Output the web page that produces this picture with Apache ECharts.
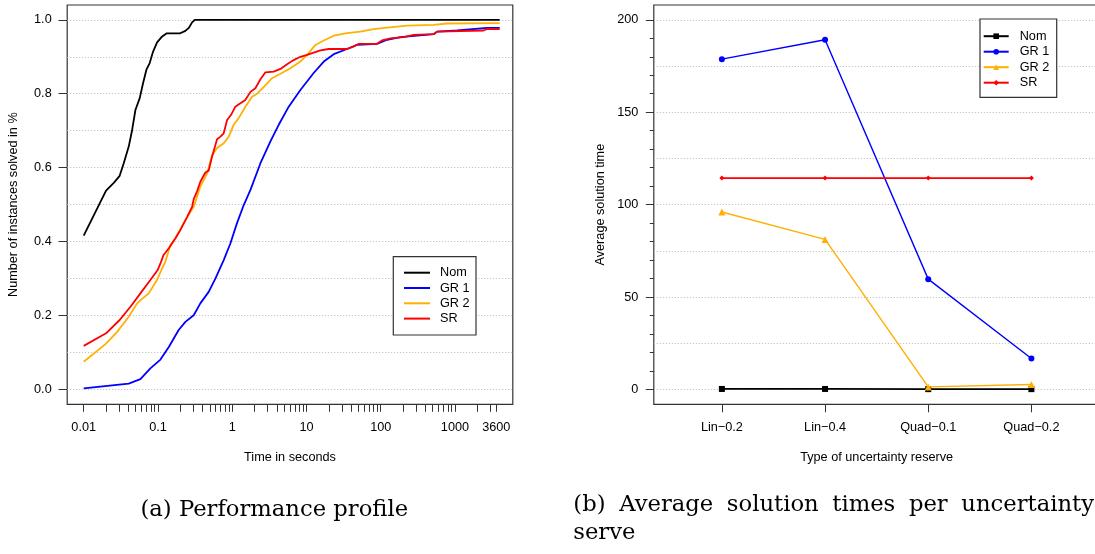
<!DOCTYPE html>
<html><head><meta charset="utf-8">
<script src="https://cdn.jsdelivr.net/npm/echarts@6/dist/echarts.min.js"></script>
<style>html,body{margin:0;padding:0;background:#fff}#c{width:1095px;height:554px}</style>
</head><body><div id="c"></div>
<script>
// ---------- data ----------
const seriesNames = ['Nom', 'GR 1', 'GR 2', 'SR'];

// (a) performance profile: solve time (s) vs. fraction solved
const nomTime = [0.01,0.02,0.0254,0.0305,0.0346,0.0404,0.0449,0.0497,0.0568,0.0631,0.0699,0.0774,0.086,0.0973,0.114,0.13,0.196,0.205,0.234,0.26,0.288,0.313,4000];
const nomFrac = [0.416,0.538,0.559,0.578,0.612,0.657,0.702,0.756,0.788,0.829,0.865,0.883,0.914,0.939,0.955,0.963,0.963,0.968,0.970,0.978,0.993,1.0,1.0];

const gr1Time = [0.01,0.0404,0.058,0.079,0.108,0.14,0.19,0.234,0.303,0.372,0.482,0.593,0.768,0.944,1.16,1.43,1.76,2.4,3.27,4.23,5.77,8.28,12.5,17.1,23.3,35.2,48.1,89,122,184,517,574,1069,2700,4000];
const gr1Frac = [0.003,0.016,0.028,0.057,0.081,0.115,0.161,0.183,0.201,0.233,0.264,0.300,0.350,0.395,0.450,0.499,0.540,0.612,0.671,0.716,0.765,0.810,0.856,0.887,0.907,0.921,0.932,0.935,0.946,0.953,0.961,0.968,0.971,0.978,0.978];

const gr2Time = [0.01,0.02,0.0282,0.0404,0.0524,0.061,0.075,0.097,0.114,0.126,0.147,0.172,0.222,0.303,0.372,0.459,0.536,0.625,0.768,0.897,1.047,1.22,1.505,1.85,2.16,2.65,3.44,4.46,6.07,8.28,10.2,13.2,17.1,23.3,35.2,53.2,80.4,122,226,517,782,4000];
const gr2Frac = [0.075,0.124,0.156,0.197,0.233,0.245,0.260,0.296,0.328,0.346,0.391,0.409,0.450,0.494,0.549,0.585,0.634,0.653,0.666,0.684,0.716,0.734,0.765,0.792,0.800,0.818,0.842,0.854,0.869,0.887,0.905,0.932,0.944,0.957,0.964,0.968,0.975,0.979,0.984,0.986,0.990,0.991];

const srTime = [0.01,0.02,0.0305,0.0426,0.058,0.079,0.099,0.108,0.119,0.14,0.172,0.2,0.247,0.288,0.303,0.336,0.372,0.435,0.482,0.536,0.625,0.693,0.768,0.853,0.966,1.1,1.29,1.5,1.76,2.05,2.4,2.8,3.62,4.46,5.48,6.73,8.28,10.2,15.4,19.9,35.2,43.3,50.5,89,104,135,204,278,517,574,2430,2700,4000];
const srFrac = [0.118,0.152,0.188,0.224,0.260,0.296,0.323,0.341,0.364,0.382,0.409,0.431,0.467,0.494,0.515,0.536,0.562,0.587,0.592,0.630,0.677,0.684,0.693,0.729,0.743,0.765,0.774,0.783,0.805,0.815,0.839,0.858,0.860,0.867,0.880,0.891,0.900,0.905,0.917,0.921,0.921,0.928,0.935,0.935,0.944,0.950,0.953,0.959,0.961,0.968,0.971,0.975,0.975];

const timeTicks = [0.01,0.02,0.03,0.04,0.05,0.06,0.07,0.08,0.09,0.1,0.2,0.3,0.4,0.5,0.6,0.7,0.8,0.9,1,2,3,4,5,6,7,8,9,10,20,30,40,50,60,70,80,90,100,200,300,400,500,600,700,800,900,1000,2000,3000,3600];
const timeLabels = [0.01,0.1,1,10,100,1000,3600];
const fracLabels = [0,0.2,0.4,0.6,0.8,1.0];
const fracGrid = [0,0.1,0.2,0.3,0.4,0.5,0.6,0.7,0.8,0.9,1.0];

// (b) average solution time per uncertainty reserve
const reserveTypes = ['Lin\u22120.2', 'Lin\u22120.4', 'Quad\u22120.1', 'Quad\u22120.2'];
const avgNom = [0.3, 0.3, 0.2, 0.2];
const avgGR1 = [178.7, 189.2, 59.7, 16.8];
const avgGR2 = [96.0, 81.2, 1.4, 2.7];
const avgSR  = [114.4, 114.4, 114.4, 114.4];
const avgLabels = [0, 50, 100, 150, 200];
const avgMinor = [0,10,20,30,40,50,60,70,80,90,100,110,120,130,140,150,160,170,180,190,200];
const avgGrid = [0, 25, 50, 75, 100, 125, 150, 175, 200];
const reservePos = [1, 2, 3, 4];

// ---------- styles ----------
const colors = ['#000000', '#0000ff', '#ffb000', '#ff0000'];
const SANS = 'Liberation Sans';
const txt = {fontFamily: SANS, fontSize: 12.7, color: '#000'};
const tickLine = {color: '#333', width: 1};
const gridLine = {color: '#b8b8b8', width: 1, type: [1, 2]};
const noLine = {show: false, onZero: false};

const zip = (a, b) => a.map((v, i) => [v, b[i]]);
const ext = Math.pow(3600 / 0.01, 0.04); // R-style 4% axis extension on log scale

const leftSeries = [[nomTime, nomFrac], [gr1Time, gr1Frac], [gr2Time, gr2Frac], [srTime, srFrac]].map((d, i) => ({
  name: seriesNames[i], type: 'line', xAxisIndex: 0, yAxisIndex: 0,
  data: zip(d[0], d[1]), symbol: 'none', showSymbol: false,
  lineStyle: {color: colors[i], width: 1.8}, itemStyle: {color: colors[i]}, z: 3 + i
}));

const rightVals = [avgNom, avgGR1, avgGR2, avgSR];
const rightSymbols = ['rect', 'circle', 'triangle', 'diamond'];
const rightSizes = [6, 6, 7, 5];
const rightWidths = [1.8, 1.4, 1.4, 1.7];
const rightSeries = rightVals.map((vals, i) => ({
  name: seriesNames[i] + '#b', type: 'line', xAxisIndex: 1, yAxisIndex: 2,
  data: zip(reservePos, vals), symbol: rightSymbols[i], symbolSize: rightSizes[i], showSymbol: true,
  lineStyle: {color: colors[i], width: rightWidths[i]}, itemStyle: {color: colors[i]}, z: 3 + i
}));

// ---------- caption (b) justified words ----------
const capFont = '22.7px "DejaVu Serif"';
function justified(words, x0, x1, y) {
  const ctx = document.createElement('canvas').getContext('2d');
  ctx.font = capFont;
  const w = words.map(s => ctx.measureText(s).width);
  const tot = w.reduce((a, b) => a + b, 0);
  const gap = (x1 - x0 - tot) / (words.length - 1);
  let x = x0;
  return words.map((s, i) => {
    const el = {type: 'text', x: x, y: y, style: {text: s, font: capFont, fill: '#000', align: 'left', verticalAlign: 'middle'}};
    x += w[i] + gap;
    return el;
  });
}
const capB1 = ['(b)', 'Average', 'solution', 'times', 'per', 'uncertainty'];

const chart = echarts.init(document.getElementById('c'), null, {renderer: 'canvas'});
chart.setOption({
  animation: false,
  backgroundColor: '#fff',
  grid: [
    {left: 67.2, top: 5, width: 445.6, height: 399.3, show: true, borderColor: '#333', borderWidth: 1.2, backgroundColor: 'transparent', containLabel: false, outerBoundsMode: 'none'},
    {left: 653.8, top: 5, width: 445.7, height: 399.3, show: true, borderColor: '#333', borderWidth: 1.2, backgroundColor: 'transparent', containLabel: false, outerBoundsMode: 'none'}
  ],
  xAxis: [
    {type: 'log', logBase: 10, gridIndex: 0, position: 'bottom', min: 0.01 / ext, max: 3600 * ext,
     name: 'Time in seconds', nameLocation: 'middle', nameGap: 47, nameTextStyle: txt,
     axisLine: noLine,
     axisTick: {show: true, length: 7.5, lineStyle: tickLine, customValues: timeTicks},
     axisLabel: {show: true, margin: 17, ...txt, customValues: timeLabels, formatter: v => String(+(+v).toPrecision(6))},
     splitLine: {show: false}, minorTick: {show: false}},
    {type: 'value', gridIndex: 1, position: 'bottom', min: 0.34, max: 4.66,
     name: 'Type of uncertainty reserve', nameLocation: 'middle', nameGap: 47, nameTextStyle: txt,
     axisLine: noLine,
     axisTick: {show: true, length: 8, lineStyle: tickLine, customValues: reservePos},
     axisLabel: {show: true, margin: 17, ...txt, customValues: reservePos, formatter: v => reserveTypes[Math.round(v) - 1]},
     splitLine: {show: false}}
  ],
  yAxis: [
    {type: 'value', gridIndex: 0, position: 'left', min: -0.04, max: 1.04,
     name: 'Number of instances solved in %', nameLocation: 'middle', nameGap: 47, nameTextStyle: txt,
     axisLine: noLine,
     axisTick: {show: true, length: 8.7, lineStyle: tickLine, customValues: fracLabels},
     axisLabel: {show: true, margin: 15.5, ...txt, customValues: fracLabels, formatter: v => (+v).toFixed(1)},
     splitLine: {show: false}},
    {type: 'value', gridIndex: 0, position: 'left', min: -0.04, max: 1.04,
     axisLine: noLine, axisLabel: {show: false},
     axisTick: {show: false, customValues: fracGrid},
     splitLine: {show: true, lineStyle: gridLine}},
    {type: 'value', gridIndex: 1, position: 'left', min: -8, max: 208,
     name: 'Average solution time', nameLocation: 'middle', nameGap: 47, nameTextStyle: txt,
     axisLine: noLine,
     axisTick: {show: true, length: 8, lineStyle: tickLine, customValues: avgLabels},
     axisLabel: {show: true, margin: 15.5, ...txt, customValues: avgLabels, formatter: v => String(Math.round(v))},
     splitLine: {show: false}},
    {type: 'value', gridIndex: 1, position: 'left', min: -8, max: 208,
     axisLine: noLine, axisLabel: {show: false},
     axisTick: {show: true, length: 4, lineStyle: tickLine, customValues: avgMinor},
     splitLine: {show: false}},
    {type: 'value', gridIndex: 1, position: 'left', min: -8, max: 208,
     axisLine: noLine, axisLabel: {show: false},
     axisTick: {show: false, customValues: avgGrid},
     splitLine: {show: true, lineStyle: gridLine}}
  ],
  legend: [
    {data: seriesNames, orient: 'vertical', left: 393.3, top: 256.7, icon: 'rect', itemWidth: 26, itemHeight: 2, itemGap: 2.3,
     padding: [9.5, 6.4, 9.9, 10.7], borderColor: '#333', borderWidth: 1.2, backgroundColor: '#fff', selectedMode: false,
     textStyle: {...txt, lineHeight: 13, padding: [0, 0, 0, 5]}},
    {data: seriesNames.map(n => n + '#b'), formatter: n => n.replace('#b', ''), orient: 'vertical', left: 980, top: 19,
     itemWidth: 25, itemHeight: 7, itemGap: 2.5, lineStyle: {width: 2},
     padding: [10.7, 7.4, 8.1, 2.7], borderColor: '#333', borderWidth: 1.2, backgroundColor: '#fff', selectedMode: false,
     textStyle: {...txt, lineHeight: 13, padding: [0, 0, 0, 6]}}
  ],
  graphic: [
    {type: 'text', x: 274.3, y: 510.3, style: {text: '(a) Performance profile', font: capFont, fill: '#000', align: 'center', verticalAlign: 'middle'}},
    ...justified(capB1, 573.3, 1094, 505.3),
    {type: 'text', x: 573.3, y: 533.3, style: {text: 'serve', font: capFont, fill: '#000', align: 'left', verticalAlign: 'middle'}}
  ],
  series: [...leftSeries, ...rightSeries]
});
</script>
</body></html>
